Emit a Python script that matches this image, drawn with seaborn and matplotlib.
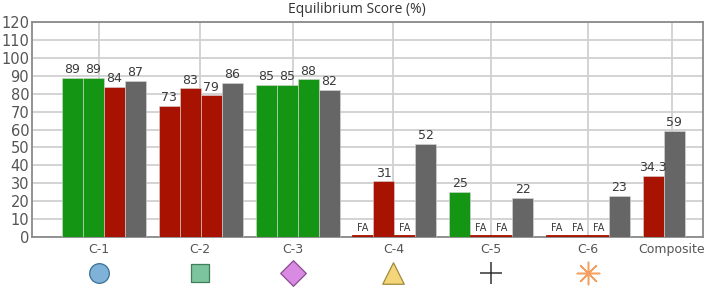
import numpy as np
import pandas as pd
import matplotlib
matplotlib.use("Agg")
import matplotlib.pyplot as plt
import matplotlib.transforms as mtransforms
import seaborn as sns

categories = ["C-1", "C-2", "C-3", "C-4", "C-5", "C-6", "Composite"]
slots = ["T1", "T2", "T3", "T4"]
# values per category (None = FA, fall, drawn as a sliver)
values = {
    "C-1": [89, 89, 84, 87],
    "C-2": [73, 83, 79, 86],
    "C-3": [85, 85, 88, 82],
    "C-4": [None, 31, None, 52],
    "C-5": [25, None, None, 22],
    "C-6": [None, None, None, 23],
    "Composite": [34.3, 59],
}
status = {
    "C-1": ["pass", "pass", "fail", "avg"],
    "C-2": ["fail", "fail", "fail", "avg"],
    "C-3": ["pass", "pass", "pass", "avg"],
    "C-4": ["fail", "fail", "fail", "avg"],
    "C-5": ["pass", "fail", "fail", "avg"],
    "C-6": ["fail", "fail", "fail", "avg"],
    "Composite": ["fail", "avg"],
}
value_labels = {
    "C-1": ["89", "89", "84", "87"],
    "C-2": ["73", "83", "79", "86"],
    "C-3": ["85", "85", "88", "82"],
    "C-4": ["FA", "31", "FA", "52"],
    "C-5": ["25", "FA", "FA", "22"],
    "C-6": ["FA", "FA", "FA", "23"],
    "Composite": ["34.3", "59"],
}
yticks = list(range(0, 121, 10))
title = "Equilibrium Score (%)"

FA_HEIGHT = 0.9
colors = {"pass": "#149614", "fail": "#a81200", "avg": "#666666"}

rows = []
for c in categories:
    for i, v in enumerate(values[c]):
        rows.append(dict(category=c, slot=slots[i],
                         value=FA_HEIGHT if v is None else v))
df = pd.DataFrame(rows)

sns.set_theme(style="white")
plt.rcParams["font.family"] = ["DejaVu Sans"]

fig = plt.figure(figsize=(7.12, 2.94), dpi=100)
ax = fig.add_axes([32 / 712, 1 - 237 / 294, (703 - 32) / 712, (237 - 22) / 294])

sns.barplot(data=df, x="category", y="value", hue="slot", order=categories,
            hue_order=slots, dodge=True, width=0.868, errorbar=None,
            palette=["#888888"] * 4, legend=False, ax=ax, zorder=3)

bars = [p for p in ax.patches if p.get_height() > 0]
bars_sorted = sorted(bars, key=lambda p: p.get_x())
info = []
for c in categories:
    for i in range(len(values[c])):
        info.append((status[c][i], value_labels[c][i], values[c][i]))
for p, (st, lab, v) in zip(bars_sorted, info):
    p.set_facecolor(colors[st])
    cx = p.get_x() + p.get_width() / 2
    if v is None:
        p.set_edgecolor(colors[st])
        p.set_linewidth(0.6)
        ax.text(cx, 2.3, lab, ha="center", va="bottom", fontsize=7,
                color="#3a3a3a", zorder=4)
    else:
        p.set_edgecolor("#d8d8d8")
        p.set_linewidth(0.4)
        ax.text(cx, p.get_height() + 1.0, lab, ha="center", va="bottom",
                fontsize=9, color="#3a3a3a", zorder=4)

tick_pos = [-0.05, 0.99, 1.95, 2.99, 4.0, 5.0, 5.87]
ax.set_xlim(-0.744, 6.19)
ax.set_ylim(0, 120)
ax.set_yticks(yticks)
ax.set_xticks(tick_pos)
ax.set_xticklabels(categories)
ax.tick_params(axis="x", length=0, pad=4, labelsize=9, labelcolor="#555555")
ax.tick_params(axis="y", length=0, pad=2, labelsize=10.5, labelcolor="#555555")
for y in yticks:
    ax.axhline(y, color="#d0d0d0", lw=1.3, zorder=1)
for x in tick_pos:
    ax.axvline(x, color="#d0d0d0", lw=1.3, zorder=1)
for s in ax.spines.values():
    s.set_color("#8a8a8a")
    s.set_linewidth(1.3)
    s.set_visible(True)
ax.set_xlabel("")
ax.set_ylabel("")

fig.text(357 / 712, 1 - 9.5 / 294, title, ha="center", va="center",
         fontsize=10, color="#333333", family=["Open Sans", "DejaVu Sans"])

# symbols under category labels
trans = mtransforms.blended_transform_factory(ax.transData, ax.transAxes)
sy = -(273 - 237) / (237 - 22)
sym = [("o", "#7fb2d9", "#3d6f96", 200, 0.9),
       ("s", "#7cc49d", "#3f7e5b", 180, 0.9),
       ("D", "#d98ae2", "#8a4b90", 170, 0.9),
       ("^", "#f5d57a", "#a08a3c", 240, 0.9),
       ("+", "#333333", "#333333", 260, 1.1),
       ("*", "#f5a060", "#f5a060", 260, 1.1)]
for x, (m, fc, ec, s, lw) in zip(tick_pos[:6], sym):
    if m == "+":
        ax.scatter([x], [sy], marker="+", s=s, c=fc, linewidths=lw,
                   transform=trans, clip_on=False, zorder=5)
    elif m == "*":
        ax.scatter([x], [sy], marker=(8, 2, 0), s=s, c=fc, linewidths=lw,
                   transform=trans, clip_on=False, zorder=5)
    else:
        ax.scatter([x], [sy], marker=m, s=s, c=fc, edgecolors=ec,
                   linewidths=lw, transform=trans, clip_on=False, zorder=5)

fig.savefig("out.png", dpi=100, facecolor="white")
